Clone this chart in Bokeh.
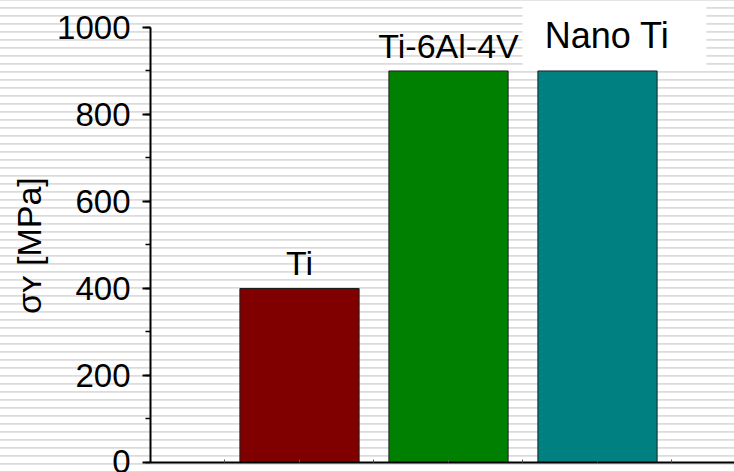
from bokeh.plotting import figure
from bokeh.models import ColumnDataSource, Range1d, SingleIntervalTicker, FixedTicker, Label
from bokeh.embed import file_html
from bokeh.resources import INLINE

# ---- data ----
materials = ["Ti", "Ti-6Al-4V", "Nano Ti"]
positions = [2, 4, 6]
yield_mpa = [400, 900, 900]
bar_colors = ["#800000", "#008000", "#008080"]
y_tick_interval = 200
y_axis_max = 1000
y_label = "σʏ [MPa]\u00a0\u00a0\u00a0"

p = figure(width=734, height=472, output_backend="svg", toolbar_location=None,
           x_range=Range1d(0, 7.839), y_range=Range1d(0, 1062),
           min_border_left=150, min_border_right=0, min_border_top=0, min_border_bottom=10)
p.grid.visible = False
p.outline_line_color = None
p.background_fill_color = None
p.border_fill_color = None
p.styles = {"background-image": "repeating-linear-gradient(to bottom, #e4e4e4 0px, #e4e4e4 1px, #ffffff 1px, #ffffff 7px, #dcdcdc 7px, #dcdcdc 8px)"}

src = ColumnDataSource(dict(x=positions, y=yield_mpa, name=materials, color=bar_colors))
p.vbar(x="x", top="y", width=1.6, fill_color="color", line_color="#1e1e1e", line_width=1, source=src)

# labels above bars
for xx, yy, name in zip(positions, yield_mpa, materials):
    if name == "Nano Ti":
        lab = Label(x=xx, y=yy, text=name, x_offset=17, y_offset=34,
                    text_font="Liberation Sans", text_font_size="36px", text_align="center",
                    text_baseline="alphabetic", text_color="black",
                    background_fill_color="white", background_fill_alpha=1.0,
                    padding=dict(left=22, right=37, top=10, bottom=13))
    else:
        lab = Label(x=xx, y=yy, text=name, y_offset=25,
                    text_font="Liberation Sans", text_font_size="34px", text_align="center",
                    text_baseline="alphabetic", text_color="black")
    p.add_layout(lab)

# y axis
ya = p.yaxis[0]
ya.ticker = SingleIntervalTicker(interval=y_tick_interval, num_minor_ticks=2)
ya.bounds = (0, y_axis_max)
ya.axis_line_width = 2
ya.axis_line_color = "black"
ya.major_tick_line_width = 2
ya.major_tick_line_color = "black"
ya.minor_tick_line_width = 1.5
ya.minor_tick_line_color = "black"
ya.major_tick_out = 8
ya.major_tick_in = 0
ya.minor_tick_out = 5
ya.minor_tick_in = 0
ya.major_label_standoff = 12
ya.major_label_text_font = "Liberation Sans"
ya.major_label_text_font_size = "33px"
ya.major_label_text_color = "black"
ya.axis_label = y_label
ya.axis_label_text_font = "Liberation Sans"
ya.axis_label_text_font_size = "34px"
ya.axis_label_text_font_style = "normal"
ya.axis_label_text_color = "black"
ya.axis_label_standoff = 6

# x axis: line with small inward ticks, no labels
xa = p.xaxis[0]
xa.ticker = FixedTicker(ticks=[], minor_ticks=list(range(0, 8)))
xa.axis_line_width = 2
xa.axis_line_color = "black"
xa.major_tick_line_color = None
xa.minor_tick_in = 3
xa.minor_tick_out = 0
xa.minor_tick_line_color = "#555555"
xa.minor_tick_line_width = 1

open("out.html", "w").write(file_html(p, INLINE))
